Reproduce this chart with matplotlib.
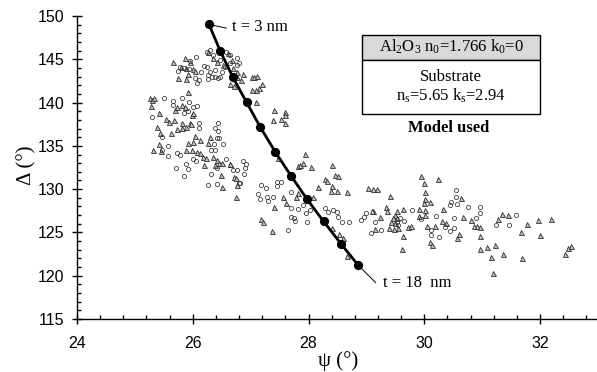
import matplotlib
matplotlib.use("Agg")
import matplotlib.pyplot as plt
from matplotlib.patches import Rectangle
from matplotlib.ticker import MultipleLocator

plt.rcParams['font.family'] = ['Liberation Serif', 'DejaVu Sans']
plt.rcParams['mathtext.fontset'] = 'custom'
plt.rcParams['mathtext.rm'] = 'Liberation Serif'
plt.rcParams['mathtext.default'] = 'rm'

# model curve, t = 3 to 18 nm
curve_psi = [26.28, 26.475, 26.694, 26.93, 27.166, 27.425, 27.696, 27.973, 28.26, 28.56, 28.86]
curve_delta = [149.03, 145.95, 142.91, 140.02, 137.17, 134.3, 131.55, 128.85, 126.27, 123.69, 121.19]

tri_psi = [
    25.66, 25.87, 25.74, 25.89, 25.92, 25.88, 26.01, 26.04, 25.79, 25.96, 25.92, 26.27, 26.35, 26.41, 26.53,
    26.61, 26.67, 26.70, 26.76, 26.86, 26.84, 26.64, 26.71, 26.76, 27.02, 27.06, 27.11, 27.19, 27.14, 27.10,
    27.02, 27.10, 27.40, 27.38, 27.52, 27.59, 27.59, 27.59, 27.94, 27.81, 27.86, 27.91, 28.05, 27.48,
    25.26, 25.29, 25.27, 25.33, 25.42, 25.39, 25.43, 25.32, 25.42, 25.45, 25.63, 25.53, 25.59, 25.67, 25.69,
    25.72, 25.81, 25.87, 25.98, 26.01, 25.82, 25.73, 25.82, 25.89, 25.96, 25.97, 26.04, 25.91, 26.01, 26.12,
    26.27, 26.30, 25.89, 25.98, 26.07, 26.12, 26.18, 26.22, 26.20, 26.35, 26.41, 26.46, 26.38, 26.64, 26.71,
    26.74, 26.49, 26.50,
    28.40, 28.46, 28.51, 28.28, 28.31, 28.17, 28.40, 28.39, 28.49, 28.66, 29.03, 29.11, 29.18, 29.41, 29.95,
    29.99, 30.23, 30.02, 30.02, 29.99, 30.09, 30.64, 27.82, 27.79, 28.07, 27.55, 27.61, 27.41, 27.17, 27.22,
    27.37, 26.75, 26.64, 26.50, 26.77, 29.33, 29.35, 29.12, 29.09, 29.24, 29.52, 29.49, 29.64, 29.46, 29.42,
    29.52, 29.49, 29.39, 29.47, 29.55, 29.72, 29.77, 29.64, 29.61, 29.91, 30.01, 29.90, 30.02, 30.04, 30.18,
    30.30, 30.37, 30.33, 30.67, 30.80, 30.86, 30.91, 30.97, 30.96, 30.60, 30.57, 30.10, 30.13, 30.96, 31.09,
    31.22, 31.15, 31.36, 31.68, 31.19, 31.27, 31.34, 31.45, 31.78, 31.96, 32.19, 31.67, 31.99, 32.43, 32.49,
    32.54, 28.40, 28.53, 28.60, 28.67, 29.14,
]
tri_delta = [
    144.64, 145.18, 142.87, 143.95, 143.3, 142.68, 143.83, 143.68, 144.14, 144.72, 141.26, 145.87, 145.1, 144.72, 144.33,
    145.68, 144.91, 143.95, 143.56, 143.3, 142.6, 142.2, 141.91, 142.91, 142.99, 142.99, 143.03, 142.14, 141.64, 141.45,
    141.45, 140.06, 139.14, 137.98, 138.06, 138.87, 138.56, 137.6, 134.06, 132.67, 132.79, 132.98, 132.6, 133.56,
    140.49, 140.29, 139.64, 140.49, 138.83, 137.21, 136.44, 134.56, 135.21, 134.44, 136.52, 138.06, 137.79, 137.98, 139.14,
    139.52, 139.72, 139.52, 138.56, 138.75, 137.68, 136.9, 137.1, 137.21, 137.68, 137.52, 136.14, 135.37, 135.48, 135.67,
    135.29, 135.98, 134.52, 134.52, 134.33, 134.13, 133.75, 133.56, 132.79, 133.75, 133.37, 132.98, 132.79, 132.9, 131.44,
    131.25, 131.63, 130.21,
    132.78, 131.62, 131.55, 131.12, 130.97, 130.2, 130.39, 129.81, 129.78, 129.7, 130.12, 129.97, 129.97, 129.2, 131.55,
    130.66, 131.12, 129.7, 128.81, 128.35, 128.47, 128.97, 129.58, 129.04, 129.04, 129.12, 128.35, 127.97, 126.5, 126.16,
    125.2, 129.12, 132.89, 132.97, 130.47, 127.89, 127.47, 127.5, 127.5, 126.81, 127.5, 127.0, 127.7, 126.62, 126.23,
    126.62, 126.04, 125.46, 125.39, 125.46, 125.66, 125.7, 124.62, 123.08, 127.66, 127.58, 126.93, 127.0, 125.77, 125.77,
    126.35, 126.12, 127.66, 126.81, 126.43, 125.73, 125.73, 125.58, 124.54, 124.81, 124.31, 123.92, 123.54, 123.08, 123.35,
    123.54, 122.19, 122.5, 122.08, 120.35, 126.5, 127.08, 127.0, 125.97, 126.43, 126.54, 125.0, 124.7, 122.46, 123.15,
    123.42, 125.46, 124.81, 124.31, 122.27, 125.39,
]

circ_psi = [
    25.50, 25.29, 25.65, 25.66, 25.81, 25.94, 26.01, 25.92, 25.84, 26.07, 26.11, 26.11, 26.43, 26.38, 26.43,
    25.47, 25.57, 25.46, 25.57, 25.72, 25.78, 25.89, 25.92, 25.71, 25.85, 26.01, 26.06, 26.31, 26.41, 26.46,
    26.41, 26.37, 26.53, 26.31, 26.39, 26.57, 26.87, 26.92, 26.91, 26.89, 26.76, 26.70, 26.26, 26.41, 26.79,
    26.82, 27.18, 27.26, 27.45, 27.53, 27.45, 26.24, 26.30, 26.35, 26.47, 26.58, 26.65, 26.77, 26.80, 26.15,
    26.19, 26.27, 26.34, 26.44, 26.06, 25.96, 25.78, 25.75, 26.03, 26.10, 26.07, 26.24, 26.30, 26.38, 26.50,
    26.76, 26.56, 26.64, 26.38, 26.27, 26.47, 25.85, 25.93,
    27.69, 27.82, 27.91, 27.96, 28.02, 28.29, 28.34, 28.43, 28.49, 28.50, 28.58, 28.70, 27.98, 27.77, 27.69,
    27.75, 27.65, 28.99, 28.95, 28.91, 29.15, 29.25, 29.08, 29.65, 29.78, 29.58, 29.52, 29.55, 29.95, 30.20,
    30.55, 30.55, 30.46, 30.57, 30.44, 30.52, 30.76, 30.97, 30.96, 30.90, 30.11, 30.11, 30.26, 30.35, 30.45,
    30.52, 31.24, 31.47, 31.59, 27.70, 27.13, 27.16, 27.28, 27.30, 27.39,
]
circ_delta = [
    140.56, 138.37, 140.22, 139.72, 140.49, 140.1, 139.52, 139.02, 138.75, 139.6, 137.68, 137.02, 137.6, 137.1, 136.75,
    136.06, 135.02, 134.5, 133.83, 134.13, 133.94, 132.9, 132.33, 132.4, 131.56, 133.44, 133.25, 131.75, 132.4, 135.87,
    135.87, 135.17, 135.21, 134.52, 134.52, 133.44, 133.25, 132.86, 132.4, 131.71, 132.21, 132.21, 130.48, 130.59, 130.67,
    130.75, 130.48, 130.17, 130.36, 130.79, 130.86, 145.87, 146.07, 145.49, 144.91, 145.87, 145.49, 145.1, 144.53, 143.56,
    144.26, 143.18, 142.99, 142.8, 145.3, 144.83, 144.14, 143.68, 142.8, 142.6, 142.22, 144.14, 143.56, 143.76, 143.56,
    144.33, 144.14, 144.53, 142.91, 142.72, 142.99, 143.95, 143.83,
    127.77, 127.66, 128.16, 127.2, 127.58, 127.77, 127.31, 127.58, 127.39, 126.73, 126.23, 126.2, 126.16, 126.31, 126.81,
    126.62, 125.27, 127.2, 126.81, 126.39, 126.23, 125.27, 124.89, 126.31, 127.58, 126.62, 126.23, 125.85, 126.54, 126.93,
    129.9, 129.12, 128.54, 128.24, 128.16, 126.7, 127.89, 127.89, 127.2, 126.7, 125.27, 124.7, 124.5, 125.58, 125.2,
    125.46, 125.81, 125.89, 127.0, 129.7, 129.43, 128.81, 129.04, 128.66, 129.12,
]

W, H = 597, 372
fig = plt.figure(figsize=(W / 100, H / 100), dpi=100)
ax = fig.add_axes([77 / W, 1 - 319 / H, 521 / W, 303 / H])

ax.plot(tri_psi, tri_delta, ls='none', marker='^', ms=3.6, mfc='#c0c0c0', mec='#202020', mew=0.55)
ax.plot(circ_psi, circ_delta, ls='none', marker='o', ms=3.0, mfc='none', mec='#303030', mew=0.55)
ax.plot(curve_psi, curve_delta, color='black', lw=2.0, marker='o', ms=5.6, zorder=5)

# leader lines to the two labels
ax.plot([curve_psi[0], 26.58], [curve_delta[0], 148.6], color='black', lw=0.7)
ax.plot([curve_psi[-1], 29.16], [curve_delta[-1], 119.2], color='black', lw=0.7)
ax.text(26.68, 148.7, 't = 3 nm', fontsize=12, va='center', ha='left')
ax.text(29.28, 119.2, 't = 18  nm', fontsize=12, va='center', ha='left')

ax.set_xlim(24, 33)
ax.set_ylim(115, 150)
ax.xaxis.set_major_locator(MultipleLocator(2))
ax.xaxis.set_minor_locator(MultipleLocator(0.4))
ax.yaxis.set_major_locator(MultipleLocator(5))
ax.yaxis.set_minor_locator(MultipleLocator(1))
ax.spines['top'].set_visible(False)
ax.spines['right'].set_visible(False)
for side in ('left', 'bottom'):
    ax.spines[side].set_linewidth(1.0)
ax.tick_params(which='major', direction='inout', length=6.5, width=1.0)
ax.tick_params(which='minor', direction='in', length=3, width=1.0)
ax.tick_params(axis='x', which='major', pad=9)
ax.tick_params(axis='y', which='major', pad=6)
for lab in ax.get_xticklabels() + ax.get_yticklabels():
    lab.set_family('Liberation Sans')
    lab.set_fontsize(11.5)

fig.text(338 / W, 1 - 366 / H, 'ψ (°)', fontsize=15, ha='center', va='baseline')
fig.text(27 / W, 1 - 165 / H, 'Δ (°)', fontsize=15, rotation=90, ha='center', va='center')

# model box
box_x0, box_x1 = 362 / W, 540 / W
y_top, y_mid, y_bot = 1 - 35 / H, 1 - 60 / H, 1 - 114 / H
fig.add_artist(Rectangle((box_x0, y_mid), box_x1 - box_x0, y_top - y_mid, transform=fig.transFigure,
                         fc='#d9d9d9', ec='black', lw=1.0))
fig.add_artist(Rectangle((box_x0, y_bot), box_x1 - box_x0, y_mid - y_bot, transform=fig.transFigure,
                         fc='white', ec='black', lw=1.0))
xc = (box_x0 + box_x1) / 2
fig.text(xc, 1 - 47 / H, r'Al$_2$O$_3$ n$_0$=1.766 k$_0$=0', fontsize=12, ha='center', va='center')
fig.text(xc, 1 - 77 / H, 'Substrate', fontsize=12, ha='center', va='center')
fig.text(xc, 1 - 96 / H, r'n$_s$=5.65 k$_s$=2.94', fontsize=12, ha='center', va='center')
fig.text(xc - 2 / W, 1 - 128 / H, 'Model used', fontsize=12, fontweight='bold', ha='center', va='center')

fig.savefig('out.png', dpi=100)
